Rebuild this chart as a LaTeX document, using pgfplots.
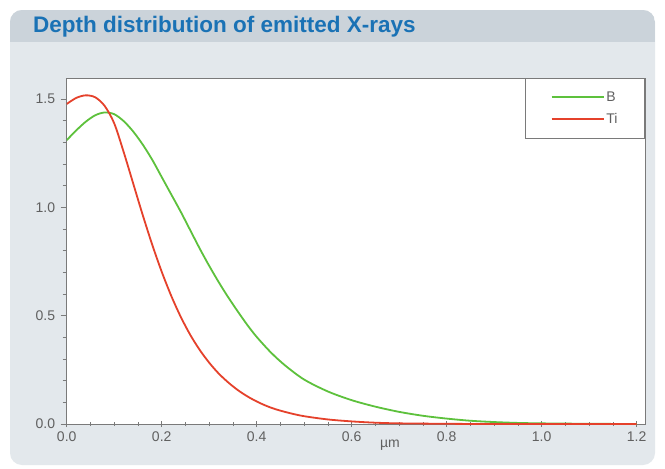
\documentclass[border=0pt]{standalone}
\usepackage{fontspec}
\setmainfont{Liberation Sans}
\newfontfamily\titlefont{Liberation Sans}
\usepackage{pgfplots}
\pgfplotsset{compat=1.18}

\definecolor{panelbg}{HTML}{E3E8EC}
\definecolor{titlebg}{HTML}{CBD3DA}
\definecolor{titleblue}{HTML}{1A72B5}
\definecolor{curveB}{HTML}{5DC13C}
\definecolor{curveTi}{HTML}{E5412B}
\definecolor{axisgray}{HTML}{7A7A7A}
\definecolor{labelgray}{HTML}{606060}

\pgfplotstableread{
x y
0.00 1.310
0.02 1.355
0.04 1.395
0.06 1.425
0.08 1.438
0.10 1.430
0.12 1.398
0.14 1.350
0.16 1.290
0.18 1.220
0.20 1.140
0.22 1.060
0.24 0.980
0.26 0.895
0.28 0.810
0.30 0.730
0.32 0.655
0.34 0.585
0.36 0.520
0.38 0.458
0.40 0.402
0.43 0.330
0.46 0.270
0.50 0.205
0.55 0.150
0.60 0.110
0.65 0.080
0.70 0.056
0.75 0.038
0.80 0.025
0.85 0.015
0.90 0.009
0.95 0.005
1.00 0.003
1.10 0.001
1.20 0.000
}\boron

\pgfplotstableread{
x y
0.00 1.477
0.02 1.505
0.04 1.517
0.06 1.508
0.08 1.468
0.10 1.388
0.12 1.255
0.14 1.110
0.16 0.965
0.18 0.828
0.20 0.703
0.22 0.592
0.24 0.495
0.26 0.412
0.28 0.342
0.30 0.283
0.32 0.233
0.34 0.192
0.36 0.157
0.38 0.128
0.40 0.104
0.42 0.084
0.44 0.068
0.47 0.050
0.50 0.036
0.55 0.021
0.60 0.012
0.65 0.006
0.70 0.003
0.80 0.001
0.90 0.000
1.20 0.000
}\titanium

\begin{document}
\begin{tikzpicture}
% page and panel
\fill[white] (0pt,0pt) rectangle (665pt,-469pt);
\fill[panelbg, rounded corners=12pt] (10pt,-10pt) rectangle (655pt,-465pt);
\begin{scope}
  \clip[rounded corners=12pt] (10pt,-10pt) rectangle (655pt,-465pt);
  \fill[titlebg] (10pt,-10pt) rectangle (655pt,-42pt);
\end{scope}
\node[anchor=west, text=titleblue, inner sep=0pt] at (33pt,-27pt)
  {\titlefont\bfseries\fontsize{22.5}{26}\selectfont Depth distribution of emitted X-rays};

\begin{axis}[
  at={(66.7pt,-424pt)}, anchor=south west,
  scale only axis, width=578.3pt, height=346pt,
  xmin=0, xmax=1.2175, ymin=0, ymax=1.597,
  axis background/.style={fill=white},
  axis line style={draw=axisgray, line width=0.9pt},
  tick pos=left,
  xtick={0,0.2,...,1.2}, ytick={0,0.5,1.0,1.5},
  minor xtick={0.05,0.1,...,1.2}, minor ytick={0.1,0.2,...,1.5},
  xtick align=center, ytick align=outside,
  major tick length=6pt, minor tick length=4pt,
  every tick/.style={draw=axisgray, line width=0.8pt},
  /pgf/number format/.cd, fixed, fixed zerofill, precision=1, assume math mode=true,
  /pgfplots/.cd,
  tick label style={font=\fontsize{14}{16}\selectfont, text=labelgray},
  xticklabel style={yshift=-1pt},
  yticklabel style={xshift=-2pt},
  xlabel={µm},
  xlabel style={at={(axis description cs:0.559,0)}, anchor=north, yshift=-12pt,
    font=\fontsize{14}{16}\selectfont, text=labelgray},
  legend style={at={(rel axis cs:1,1)}, anchor=north east, draw=axisgray,
    line width=0.8pt, fill=white, inner xsep=25pt, inner ysep=11pt,
    row sep=7pt, font=\fontsize{14}{16}\selectfont, text=labelgray},
  legend cell align=left,
  legend image code/.code={\draw[#1, line width=1.8pt] (0pt,0pt) -- (52pt,0pt);},
]
\addplot[draw=curveB, line width=1.8pt, smooth] table[x=x, y=y] {\boron};
\addlegendentry{B}
\addplot[draw=curveTi, line width=1.8pt, smooth] table[x=x, y=y] {\titanium};
\addlegendentry{Ti}
\end{axis}
\end{tikzpicture}
\end{document}
